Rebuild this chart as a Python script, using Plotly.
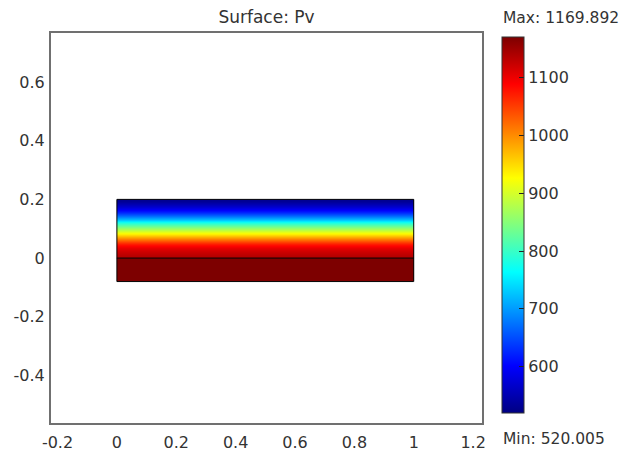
import plotly.graph_objects as go

# ---- data ----
domain_x = [0.0, 0.5, 1.0]                 # column edges of the rectangle
upper_y_edges = [0.0, 0.01, 0.02, 0.03, 0.04, 0.05, 0.06, 0.07, 0.08, 0.09, 0.10,
                 0.11, 0.12, 0.13, 0.14, 0.15, 0.16, 0.17, 0.18, 0.19, 0.20]
upper_pv = [1136, 1128, 1118, 1104, 1082, 1048, 1007, 964, 922, 882, 842,
            801, 758, 715, 672, 633, 600, 572, 550, 531]   # bottom -> top
lower_y_edges = [-0.08, 0.0]
lower_pv = [1169.892]
pv_min = 520.005
pv_max = 1169.892

x_ticks = [-0.2, 0, 0.2, 0.4, 0.6, 0.8, 1, 1.2]
x_tick_labels = ["-0.2", "0", "0.2", "0.4", "0.6", "0.8", "1", "1.2"]
y_ticks = [-0.4, -0.2, 0, 0.2, 0.4, 0.6]
y_tick_labels = ["-0.4", "-0.2", "0", "0.2", "0.4", "0.6"]
cb_ticks = [600, 700, 800, 900, 1000, 1100]
cb_tick_labels = ["600", "700", "800", "900", "1000", "1100"]

jet = [[0.0, "rgb(0,0,130)"], [0.125, "rgb(0,0,255)"], [0.375, "rgb(0,255,255)"],
       [0.625, "rgb(255,255,0)"], [0.875, "rgb(255,0,0)"], [1.0, "rgb(125,0,0)"]]

FONT = "DejaVu Sans"
TXT = "#333333"
FS = 16

# plot-area geometry (pixels)
W, H = 631, 452
L, R, T, B = 51, 482, 33, 423
PW, PH = R - L, B - T
CB_X0, CB_TOP, CB_BOT = 502, 37, 413
cb_y = (B - CB_BOT) / PH
cb_len = (CB_BOT - CB_TOP) / PH
cb_x = (CB_X0 - L) / PW
cb_thick = 22

fig = go.Figure()
fig.add_trace(go.Heatmap(
    x=domain_x, y=upper_y_edges,
    z=[[v, v] for v in upper_pv],
    coloraxis="coloraxis", zsmooth="best", hoverinfo="skip"))
fig.add_trace(go.Heatmap(
    x=domain_x, y=lower_y_edges,
    z=[[v, v] for v in lower_pv],
    coloraxis="coloraxis", zsmooth=False, hoverinfo="skip"))

# subdomain outlines
fig.add_shape(type="rect", x0=domain_x[0], x1=domain_x[-1],
              y0=lower_y_edges[0], y1=upper_y_edges[-1],
              line=dict(color="black", width=1))
fig.add_shape(type="line", x0=domain_x[0], x1=domain_x[-1],
              y0=upper_y_edges[0], y1=upper_y_edges[0],
              line=dict(color="black", width=1))

# left-side tick dashes on the colour bar (mirror of the inside ticks)
for v in cb_ticks:
    yp = cb_y + (v - pv_min) / (pv_max - pv_min) * cb_len
    fig.add_shape(type="line", xref="paper", yref="paper",
                  x0=cb_x, x1=cb_x + 5 / PW, y0=yp, y1=yp,
                  line=dict(color="#222222", width=1))

fig.update_layout(
    template="none",
    width=W, height=H,
    margin=dict(l=L, r=W - R, t=T, b=H - B, pad=0),
    paper_bgcolor="white", plot_bgcolor="white",
    font=dict(family=FONT, size=FS, color=TXT),
    showlegend=False,
    title=dict(text="Surface: Pv", x=(L + R) / 2 / W, xanchor="center",
               y=1 - 17 / H, yanchor="middle",
               font=dict(family=FONT, size=17, color=TXT)),
    xaxis=dict(range=[-0.222, 1.23], tickvals=x_ticks, ticktext=x_tick_labels,
               showgrid=False, zeroline=False, showline=True, mirror=True,
               linecolor="#707070", linewidth=2, ticks="outside", ticklen=4,
               tickcolor="rgba(0,0,0,0)", automargin=False),
    yaxis=dict(range=[-0.562, 0.767], tickvals=y_ticks, ticktext=y_tick_labels,
               showgrid=False, zeroline=False, showline=True, mirror=True,
               linecolor="#707070", linewidth=2, ticks="outside", ticklen=1,
               tickcolor="rgba(0,0,0,0)", automargin=False),
    coloraxis=dict(
        cmin=pv_min, cmax=pv_max, colorscale=jet,
        colorbar=dict(
            x=cb_x, xanchor="left", xpad=0,
            y=cb_y, yanchor="bottom", ypad=0,
            len=cb_len, lenmode="fraction",
            thickness=cb_thick, thicknessmode="pixels",
            outlinewidth=1, outlinecolor="#333333",
            tickvals=cb_ticks, ticktext=cb_tick_labels,
            ticks="inside", ticklen=5, tickcolor="#222222", tickwidth=1,
            tickfont=dict(family=FONT, size=FS, color=TXT))),
    annotations=[
        dict(text="Max: %.3f" % pv_max, xref="paper", yref="paper",
             x=cb_x, y=(B - 18) / PH, xanchor="left", yanchor="middle",
             xshift=-1, showarrow=False, font=dict(family=FONT, size=15.5, color=TXT)),
        dict(text="Min: %.3f" % pv_min, xref="paper", yref="paper",
             x=cb_x, y=(B - 439) / PH, xanchor="left", yanchor="middle",
             xshift=-1, showarrow=False, font=dict(family=FONT, size=15.5, color=TXT)),
    ],
)

fig.write_html(
    "out.html",
    config={"displayModeBar": False, "staticPlot": True},
    post_script="document.body.style.margin='0';document.body.style.overflow='hidden';",
)
